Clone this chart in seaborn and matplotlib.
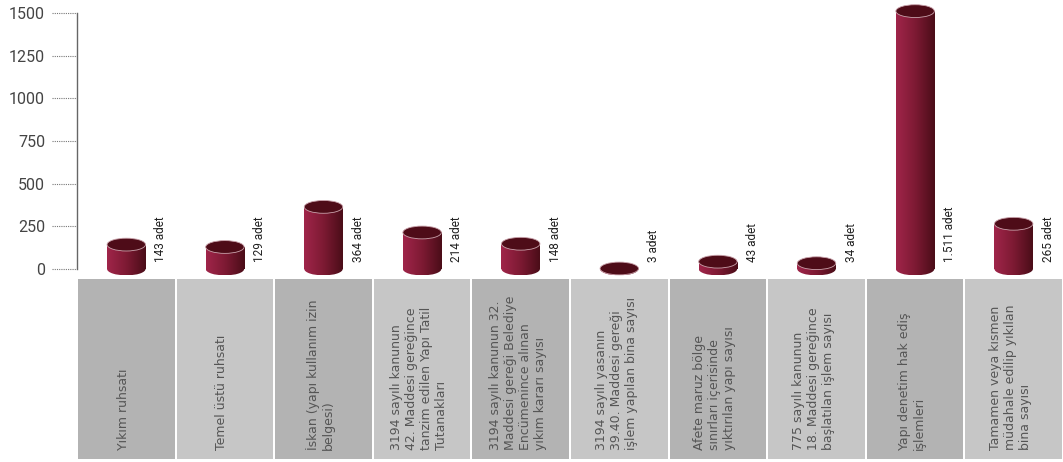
import numpy as np
import pandas as pd
import matplotlib
matplotlib.use("Agg")
import matplotlib.pyplot as plt
from matplotlib.patches import Ellipse
import matplotlib.transforms as mtransforms
import seaborn as sns

categories = [
    "Yıkım ruhsatı",
    "Temel üstü ruhsatı",
    "İskan (yapı kullanım izin\nbelgesi)",
    "3194 sayılı kanunun\n42. Maddesi gereğince\ntanzim edilen Yapı Tatil\nTutanakları",
    "3194 sayılı kanunun 32.\nMaddesi gereği Belediye\nEncümenince alınan\nyıkım kararı sayısı",
    "3194 sayılı yasanın\n39.40. Maddesi gereği\nişlem yapılan bina sayısı",
    "Afete maruz bölge\nsınırları içerisinde\nyıktırılan yapı sayısı",
    "775 sayılı kanunun\n18. Maddesi gereğince\nbaşlatılan işlem sayısı",
    "Yapı denetim hak ediş\nişlemleri",
    "Tamamen veya kısmen\nmüdahale edilip yıkılan\nbina sayısı",
]
values = [143, 129, 364, 214, 148, 3, 43, 34, 1511, 265]
value_labels = ["143 adet", "129 adet", "364 adet", "214 adet", "148 adet",
                "3 adet", "43 adet", "34 adet", "1.511 adet", "265 adet"]
yticks = [0, 250, 500, 750, 1000, 1250, 1500]

sns.set_theme(style="white")
plt.rcParams['font.family'] = ['Roboto', 'DejaVu Sans']

W, H = 1063, 462
fig = plt.figure(figsize=(W / 100, H / 100), dpi=100)
# 0 -> y=269px, 1500 -> y=13px ; extend down to -50 for the cylinder bases
ppu = 256 / 1500
ax = fig.add_axes([77 / W, (H - 269 - 50 * ppu) / H, (W - 77) / W, (256 + 50 * ppu) / H])
ax2 = fig.add_axes([77 / W, (H - 459) / H, (W - 77) / W, 180 / H])

df = pd.DataFrame({"cat": categories, "val": values})
bw = 0.39
sns.barplot(data=df, x="cat", y="val", ax=ax, width=bw, color="#7a1a30",
            saturation=1, edgecolor="none")

cap_h = 75
grad = np.linspace(0, 1, 256).reshape(1, -1)
cmap = matplotlib.colors.LinearSegmentedColormap.from_list(
    "cyl", ["#a0254a", "#7d1a33", "#4a0d18"])

for i, p in enumerate(list(ax.patches)):
    x0 = p.get_x()
    w = p.get_width()
    h = p.get_height()
    xc = x0 + w / 2
    p.set_facecolor("none")
    # bottom ellipse
    eb = Ellipse((xc, 0), w, cap_h, facecolor="none", edgecolor="none")
    ax.add_patch(eb)
    im = ax.imshow(grad, cmap=cmap, extent=[x0, x0 + w, -cap_h / 2, max(h, 0.1)],
                   aspect="auto", origin="lower", zorder=2)
    im.set_clip_path(eb)
    im2 = ax.imshow(grad, cmap=cmap, extent=[x0, x0 + w, 0, max(h, 0.1)],
                    aspect="auto", origin="lower", zorder=2)
    im2.set_clip_path(p)
    # top cap
    et = Ellipse((xc, h), w, cap_h, facecolor="#4e0c18", edgecolor="#c9a2ab",
                 linewidth=0.6, zorder=3, clip_on=False)
    ax.add_patch(et)
    ax.text(x0 + w + 0.09, 40, value_labels[i], rotation=90, ha="left",
            va="bottom", fontsize=8.5, color="#222222", zorder=4)

ax.set_xlim(-0.5, len(values) - 0.5)
ax.set_ylim(-50, 1500)
ax.set_yticks(yticks)
ax.set_yticklabels([str(t) for t in yticks], fontsize=11.5, color="#444444")
ax.tick_params(axis="y", length=0, pad=23)
ax.set_xticks([])
ax.set_xlabel("")
ax.set_ylabel("")
for s in ["top", "right", "bottom"]:
    ax.spines[s].set_visible(False)
ax.spines["left"].set_color("#666666")
ax.spines["left"].set_linewidth(1.0)
ax.spines["left"].set_bounds(0, 1500)
trans = mtransforms.blended_transform_factory(ax.transAxes, ax.transData)
for t in yticks:
    ax.plot([-0.0255, 0], [t, t], transform=trans, color="#777777",
            linestyle=(0, (1, 1)), linewidth=0.8, clip_on=False)

# label panels
panel_colors = ["#b3b3b3" if i % 2 == 0 else "#c6c6c6" for i in range(len(categories))]
ax2.bar(range(len(categories)), [1] * len(categories), width=0.98,
        color=panel_colors, edgecolor="none")
ax2.set_xlim(-0.5, len(categories) - 0.5)
ax2.set_ylim(0, 1)
ax2.axis("off")
for i, c in enumerate(categories):
    ax2.text(i - 0.03, 0.05, c, rotation=90, ha="center", va="bottom",
             multialignment="left", fontsize=9, color="#555555",
             linespacing=1.2, family=["DejaVu Sans"])

fig.savefig("out.png", dpi=100, facecolor="white")
